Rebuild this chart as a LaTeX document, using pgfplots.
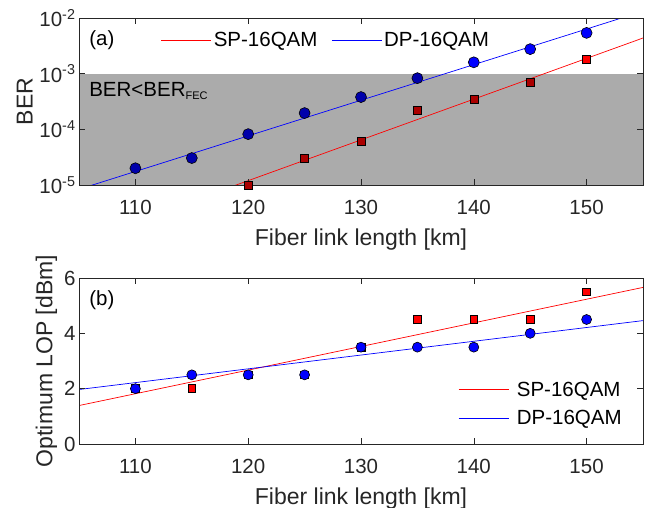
\documentclass[border=0pt]{standalone}
\usepackage{pgfplots}
\pgfplotsset{compat=1.18}
\usepackage{fontspec}
\setmainfont{Liberation Sans}
\definecolor{axgray}{RGB}{38,38,38}
\definecolor{dred}{RGB}{171,0,0}
\definecolor{dblue}{RGB}{0,0,171}
\begin{document}
\begin{tikzpicture}
\path[use as bounding box] (0,0) rectangle (650bp,508bp);
\pgfplotsset{
 every axis/.append style={
  scale only axis, width=564bp,
  xmin=105, xmax=155, xtick={110,120,...,150},
  tick align=inside, major tick length=6bp, minor tick length=0pt,
  axis line style={axgray, line width=0.6bp},
  tick style={axgray, line width=0.6bp},
  tick label style={font=\fontsize{20.5bp}{24bp}\selectfont, text=axgray},
  xticklabel style={yshift=-12bp},
  label style={font=\fontsize{23bp}{27bp}\selectfont, text=axgray},
  xlabel style={yshift=-7bp},
  /pgf/number format/assume math mode=true,
  xlabel={Fiber link length [km]},
  legend style={draw=none, fill=none, font=\fontsize{20.5bp}{24bp}\selectfont, text=black},
  legend image code/.code={\draw[#1] (0bp,0bp) -- (50bp,0bp);},
  axis on top,
 }
}
% ---------- (a) ----------
\begin{axis}[at={(79bp,323bp)}, anchor=south west, height=167bp,
  ymode=log, ymin=1e-5, ymax=1e-2,
  ytick={1e-5,1e-4,1e-3,1e-2},
  yticklabels={10\textsuperscript{-5},10\textsuperscript{-4},10\textsuperscript{-3},10\textsuperscript{-2}},
  ylabel={BER},
  legend columns=2,
  legend style={at={(0.438,0.868)}, anchor=center, /tikz/every even column/.append style={column sep=12bp}}]
\addplot[draw=none, fill=black, fill opacity=0.33, forget plot]
 coordinates {(105,1e-5) (155,1e-5) (155,1e-3) (105,1e-3)} -- cycle;
\addplot[red, line width=0.7bp] coordinates {(105,9.55e-7) (155,4.37e-3)};
\addlegendentry{SP-16QAM}
\addplot[blue, line width=0.7bp] coordinates {(105,8.38e-6) (155,1.324e-2)};
\addlegendentry{DP-16QAM}
% SP-16QAM measured (inside / above shaded region)
\addplot[only marks, mark=square*, mark size=4bp, mark options={fill=dred, draw=black, line width=0.6bp}, forget plot]
 coordinates {(120,1.0e-5) (125,3.05e-5) (130,6.2e-5) (135,2.2e-4) (140,3.5e-4) (145,7.0e-4)};
\addplot[only marks, mark=square*, mark size=4bp, mark options={fill=red, draw=black, line width=0.6bp}, forget plot]
 coordinates {(150,1.8e-3)};
% DP-16QAM measured
\addplot[only marks, mark=*, mark size=5.5bp, mark options={fill=dblue, draw=black, line width=0.6bp}, forget plot]
 coordinates {(110,2.0e-5) (115,3.05e-5) (120,8.2e-5) (125,1.96e-4) (130,3.8e-4) (135,8.3e-4)};
\addplot[only marks, mark=*, mark size=5.5bp, mark options={fill=blue, draw=black, line width=0.6bp}, forget plot]
 coordinates {(140,1.6e-3) (145,2.76e-3) (150,5.4e-3)};
\node[anchor=west, font=\fontsize{20.5bp}{24bp}\selectfont, text=black] at (rel axis cs:0.012,0.868) {(a)};
\node[anchor=west, font=\fontsize{20.5bp}{24bp}\selectfont, text=black] at (rel axis cs:0.012,0.565) {BER<BER\textsubscript{\fontsize{11bp}{12bp}\selectfont FEC}};
\end{axis}
% ---------- (b) ----------
\begin{axis}[at={(79bp,64bp)}, anchor=south west, height=166bp,
  ymin=0, ymax=6, ytick={0,2,4,6},
  ylabel={Optimum LOP [dBm]},
  legend cell align=left,
  legend style={at={(0.819,0.241)}, anchor=center, row sep=9bp, /tikz/every odd column/.append style={column sep=6bp}}]
\addplot[red, line width=0.7bp] coordinates {(105,1.39) (155,5.66)};
\addlegendentry{SP-16QAM}
\addplot[blue, line width=0.7bp] coordinates {(105,1.97) (155,4.46)};
\addlegendentry{DP-16QAM}
\addplot[only marks, mark=square*, mark size=3.9bp, mark options={fill=red, draw=black, line width=0.6bp}, forget plot]
 coordinates {(110,2.0) (115,2.0) (120,2.5) (125,2.5) (130,3.5) (135,4.5) (140,4.5) (145,4.5) (150,5.5)};
\addplot[only marks, mark=*, mark size=5bp, mark options={fill=blue, draw=black, line width=0.6bp}, forget plot]
 coordinates {(110,2.0) (115,2.5) (120,2.5) (125,2.5) (130,3.5) (135,3.5) (140,3.5) (145,4.0) (150,4.5)};
\node[anchor=west, font=\fontsize{20.5bp}{24bp}\selectfont, text=black] at (rel axis cs:0.012,0.868) {(b)};
\end{axis}
\end{tikzpicture}
\end{document}
